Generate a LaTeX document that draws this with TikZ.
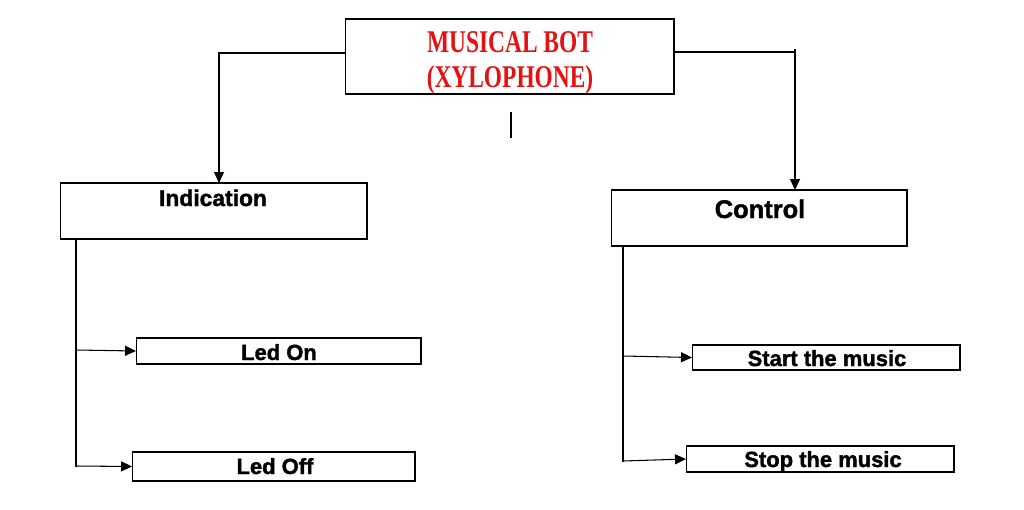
\documentclass[tikz,border=0pt]{standalone}
\usepackage{fontspec}
\usepackage{graphicx}
\setmainfont{Liberation Sans}[BoldFeatures={FakeBold=1.6}]
\newfontfamily\titlefont{Liberation Serif}
\usetikzlibrary{arrows.meta}
\definecolor{titlered}{RGB}{228,18,18}
\tikzset{
  box/.style={draw=black, line width=0.6pt, inner sep=0pt, outer sep=0pt, rectangle},
  lbl/.style={anchor=base, inner sep=0pt, font=\fontsize{12.5}{15}\selectfont\bfseries},
  ttl/.style={anchor=base, inner sep=0pt, text=titlered, font=\fontsize{18}{21}\selectfont\titlefont\bfseries},
  conn/.style={line width=0.6pt, draw=black},
  arr/.style={conn, -{Triangle[length=2.2mm,width=2mm]}}
}
\begin{document}
\begin{tikzpicture}[x=0.02cm,y=-0.02cm]
\useasboundingbox (0,0) rectangle (1024,510);
% boxes
\node[box, minimum width=6.58cm, minimum height=1.50cm] (title) at (509.5,56.5) {};
\node[box, minimum width=6.14cm, minimum height=1.12cm] (ind) at (213.5,211) {};
\node[box, minimum width=5.92cm, minimum height=1.12cm] (ctrl) at (759,218) {};
\node[box, minimum width=5.70cm, minimum height=0.52cm] (ledon) at (278.5,351) {};
\node[box, minimum width=5.66cm, minimum height=0.58cm] (ledoff) at (273.5,466.5) {};
\node[box, minimum width=5.36cm, minimum height=0.50cm] (start) at (826,357.5) {};
\node[box, minimum width=5.36cm, minimum height=0.52cm] (stop) at (820,459) {};
% texts
\node[ttl] (t1) at (510,53) {\scalebox{0.74}[1]{MUSICAL BOT}};
\node[ttl] (t2) at (510,88) {\scalebox{0.74}[1]{(XYLOPHONE)}};
\node[lbl, font=\fontsize{13}{15}\selectfont\bfseries] (tind) at (213,206) {Indication};
\node[lbl, font=\fontsize{14.5}{17}\selectfont\bfseries] (tctrl) at (760,218) {Control};
\node[lbl] (tledon) at (279,360) {Led On};
\node[lbl] (tledoff) at (275,474) {Led Off};
\node[lbl] (tstart) at (827,366) {Start the music};
\node[lbl] (tstop) at (823,467) {Stop the music};
% connectors from title
\coordinate (lc) at (219,53);
\draw[arr] (title.west |- lc) -- (lc) -- (lc |- ind.north);
\coordinate (rc) at (795,52);
\draw[conn] (title.east |- rc) -- (rc);
\coordinate (rtop) at (795,49);
\draw[arr] (rtop) -- (rtop |- ctrl.north);
% stray short line
\draw[conn] (511,112) -- (511,138);
% left trunk
\coordinate (ltop) at (76,239);
\coordinate (lbot) at (76,467);
\draw[conn] (ltop) -- (lbot);
\coordinate (lb1) at (76,350);
\coordinate (lb2) at (76,466);
\draw[arr] (lb1) -- (ledon.west);
\draw[arr] (lb2) -- (ledoff.west);
% right trunk
\coordinate (rtt) at (623,246);
\coordinate (rtb) at (623,462);
\draw[conn] (rtt) -- (rtb);
\coordinate (rb1) at (623,356);
\coordinate (rb2) at (623,461);
\draw[arr] (rb1) -- (start.west);
\draw[arr] (rb2) -- (stop.west);
\end{tikzpicture}
\end{document}
